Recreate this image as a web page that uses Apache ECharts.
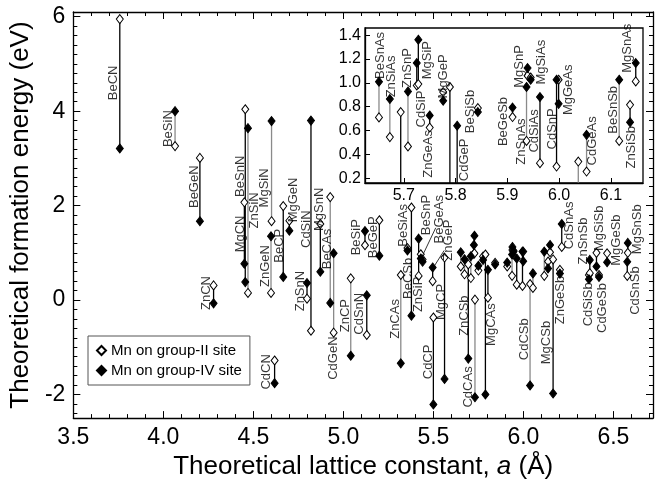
<!DOCTYPE html>
<html>
<head>
<meta charset="utf-8">
<script src="https://cdn.jsdelivr.net/npm/echarts@6/dist/echarts.min.js"></script>
<style>
html, body { margin: 0; padding: 0; background: #fff; }
#chart { width: 657px; height: 485px; }
</style>
</head>
<body>
<div id="chart"></div>
<script>
// compounds, lattice constant (Å), formation energy with Mn on group-II / group-IV site (eV)
const names = ['BeCN','BeSiN','BeGeN','ZnCN','MgCN','BeSnN','ZnSiN','ZnGeN','MgSiN','CdCN',
  'BeCP','MgGeN','ZnSnN','CdSiN','MgSnN','BeCAs','CdGeN','ZnCP','BeSiP','CdSnN',
  'BeGeP','ZnCAs','BeCSb','BeSiAs','ZnSiP','BeSnP','BeGeAs','MgCP','CdCP','ZnGeP',
  'BeSnAs','ZnSiAs','ZnCSb','ZnSnP','CdSiP','MgSiP','CdCAs','ZnGeAs','MgGeP','MgCAs',
  'CdGeP','BeSiSb','BeGeSb','ZnSnAs','MgSnP','CdSiAs','MgSiAs','CdSnP','MgGeAs','CdCSb',
  'CdGeAs','BeSnSb','ZnSiSb','MgSnAs','MgCSb','ZnGeSb','CdSnAs','CdSiSb','ZnSnSb','MgSiSb',
  'CdGeSb','MgGeSb','CdSnSb','MgSnSb'];
const latticeA = [3.758,4.065,4.203,4.279,4.450,4.455,4.470,4.598,4.601,4.618,
  4.666,4.700,4.798,4.820,4.872,4.927,4.946,5.041,5.120,5.130,
  5.200,5.319,5.356,5.378,5.418,5.430,5.440,5.496,5.500,5.562,
  5.652,5.673,5.694,5.708,5.725,5.728,5.731,5.750,5.776,5.789,
  5.803,5.843,5.910,5.937,5.939,5.945,5.963,5.995,5.999,6.037,
  6.053,6.116,6.137,6.148,6.165,6.203,6.213,6.364,6.369,6.406,
  6.420,6.465,6.577,6.580];
const eMnII = [5.95,3.26,3.01,0.31,2.07,4.04,0.15,0.15,1.67,-1.28,
  1.99,1.68,0.03,-0.65,1.61,2.18,-0.69,0.46,1.16,-0.74,
  1.69,0.53,1.10,1.96,0.51,0.97,0.86,0.40,-0.37,0.90,
  0.71,0.545,0.755,0.466,0.978,0.99,0.01,0.625,0.923,0.965,
  0.05,0.788,0.713,0.513,1.06,1.045,0.326,0.298,1.026,0.34,
  0.256,0.513,0.816,1.012,0.86,0.64,1.125,0.53,0.57,1.00,
  0.53,0.99,0.51,1.00];
const eMnIV = [3.21,4.00,1.67,-0.07,0.77,0.38,3.64,1.35,3.79,-1.76,
  0.49,1.47,0.36,3.80,0.60,-0.06,0.99,-1.18,1.46,0.10,
  0.94,-1.34,1.05,-0.33,1.30,0.88,0.81,0.69,-2.21,-1.67,
  1.01,0.864,-1.24,0.928,1.166,1.362,-2.06,0.726,0.85,-2.00,
  0.64,0.755,0.793,0.965,1.124,1.026,0.881,1.026,0.824,-1.81,
  0.564,1.026,0.67,1.166,-1.98,0.56,1.61,0.44,0.85,0.71,
  0.49,0.80,0.81,1.21];
// connectors drawn in grey instead of black
const greyLinks = ['BeSiN','ZnSiN','ZnGeN','MgSiN','BeCAs','CdGeN','ZnCP','ZnCAs','CdCAs',
  'BeSnAs','ZnSiAs','ZnSnP','ZnSnAs','CdCSb','CdGeAs','BeSnSb'];

// label anchors [name, a, E] (main panel and inset)
const mainLabels = [['BeCN',3.721,4.6],['BeSiN',4.03,3.63],['BeGeN',4.172,2.4],['ZnCN',4.237,0.15],
  ['BeSnN',4.43,2.62],['MgCN',4.43,1.40],['ZnSiN',4.504,1.9],['MgSiN',4.559,2.375],['ZnGeN',4.568,0.72],
  ['BeCP',4.642,1.15],['CdCN',4.572,-1.52],['MgGeN',4.72,2.12],['CdSiN',4.793,1.5],['MgSnN',4.865,1.92],
  ['BeCAs',4.909,1.08],['ZnSnN',4.762,0.19],['CdGeN',4.946,-1.23],['ZnCP',5.01,-0.33],['CdSnN',5.09,-0.29],
  ['BeSiP',5.07,1.33],['BeGeP',5.167,1.33],['BeSiAs',5.333,1.58],['BeCSb',5.36,0.46],['ZnCAs',5.29,-0.4],
  ['ZnSiP',5.419,0.12],['BeSnP',5.461,1.8],['BeGeAs',5.535,1.71],['ZnGeP',5.585,1.27],['MgCP',5.544,-0.04],
  ['CdCP',5.474,-1.31],['ZnCSb',5.67,-0.33],['CdCAs',5.695,-1.84],['MgCAs',5.824,-0.52],['CdCSb',6.008,-0.83],
  ['MgCSb',6.13,-0.9],['ZnGeSb',6.207,0.0],['CdSnAs',6.257,1.58],['ZnSnSb',6.336,1.25],['CdSiSb',6.364,-0.09],
  ['MgSiSb',6.423,1.52],['CdGeSb',6.437,-0.17],['MgGeSb',6.515,1.27],['MgSnSb',6.631,1.5],['CdSnSb',6.62,0.2]];
const insetLabels = [['BeSnAs',5.654,1.23],['ZnSiAs',5.676,1.054],['ZnSnP',5.707,1.124],['CdSiP',5.734,0.78],
  ['MgSiP',5.745,1.19],['ZnGeAs',5.748,0.404],['MgGeP',5.776,1.054],['CdGeP',5.817,0.354],['BeSiSb',5.828,0.76],
  ['BeGeSb',5.892,0.676],['MgSnP',5.924,1.138],['ZnSnAs',5.927,0.508],['CdSiAs',5.953,0.597],['MgSiAs',5.966,1.173],
  ['CdSnP',5.987,0.614],['MgGeAs',6.017,0.942],['CdGeAs',6.064,0.513],['BeSnSb',6.105,0.774],['ZnSiSb',6.139,0.46],
  ['MgSnAs',6.131,1.29]];
// leader lines from crowded labels to their pairs [a1, E1, a2, E2]
const leaders = [[5.513,1.53,5.447,1.0],[5.560,1.05,5.505,0.72]];

const FONT = '"Liberation Sans", Arial, sans-serif';
const GREY = '#8a8a8a';

const links = names.map((n, i) => [latticeA[i], eMnII[i], eMnIV[i], greyLinks.includes(n) ? 1 : 0]);
const openPts = names.map((n, i) => [latticeA[i], eMnII[i]]);
const fullPts = names.map((n, i) => [latticeA[i], eMnIV[i]]);

function drawLink(params, api) {
  const p1 = api.coord([api.value(0), api.value(1)]);
  const p2 = api.coord([api.value(0), api.value(2)]);
  return {
    type: 'line',
    shape: { x1: p1[0], y1: p1[1], x2: p2[0], y2: p2[1] },
    style: { stroke: api.value(3) ? GREY : '#000', lineWidth: 1.3 }
  };
}
function drawLeader(params, api) {
  const p1 = api.coord([api.value(0), api.value(1)]);
  const p2 = api.coord([api.value(2), api.value(3)]);
  return { type: 'line', shape: { x1: p1[0], y1: p1[1], x2: p2[0], y2: p2[1] }, style: { stroke: '#000', lineWidth: 0.8 } };
}
function labelSeries(list, xi, yi, z) {
  return {
    type: 'scatter', xAxisIndex: xi, yAxisIndex: yi, z: z, symbolSize: 0, silent: true,
    data: list.map(l => ({ value: [l[1], l[2]], name: l[0] })),
    label: { show: true, position: 'inside', rotate: 90, formatter: p => p.name,
      fontSize: 13, fontFamily: FONT, color: '#000' }
  };
}

const chart = echarts.init(document.getElementById('chart'), null, { renderer: 'canvas' });

const tickMain = { inside: true, length: 7, lineStyle: { color: '#000', width: 1 } };
const minorMain = { show: true, length: 4, lineStyle: { color: '#000', width: 1 } };
const lineBlack = { show: true, onZero: false, lineStyle: { color: '#000', width: 1.3 } };

chart.setOption({
  animation: false,
  backgroundColor: '#fff',
  grid: [
    { left: 70, right: 4, top: 12, bottom: 62 },
    { left: 365, top: 28, width: 278, height: 155 }
  ],
  legend: {
    left: 88, top: 336, orient: 'vertical', itemGap: 5, itemWidth: 9, itemHeight: 9,
    padding: [7, 8, 7, 8], borderColor: '#555', borderWidth: 1, backgroundColor: '#fff',
    textStyle: { fontSize: 15, fontFamily: FONT, color: '#000' },
    data: [{ name: 'Mn on group-II site', icon: 'diamond' }, { name: 'Mn on group-IV site', icon: 'diamond' }]
  },
  xAxis: [
    { type: 'value', gridIndex: 0, min: 3.5, max: 6.72, interval: 0.5,
      name: 'Theoretical lattice constant, {i|a} (Å)', nameLocation: 'middle', nameGap: 33,
      nameTextStyle: { fontSize: 26, fontFamily: FONT, color: '#000',
        rich: { i: { fontSize: 26, fontFamily: FONT, fontStyle: 'italic', color: '#000' } } },
      axisLine: lineBlack, axisTick: tickMain, minorTick: Object.assign({ splitNumber: 5 }, minorMain),
      splitLine: { show: false },
      axisLabel: { fontSize: 23, fontFamily: FONT, color: '#000', margin: 8, showMaxLabel: false,
        formatter: v => v.toFixed(1) } },
    { type: 'value', gridIndex: 0, position: 'top', min: 3.5, max: 6.72, interval: 0.5,
      axisLine: lineBlack, axisTick: tickMain, minorTick: Object.assign({ splitNumber: 5 }, minorMain),
      splitLine: { show: false }, axisLabel: { show: false } },
    { type: 'value', gridIndex: 1, min: 5.625, max: 6.162, splitNumber: 5, z: 10,
      axisLine: lineBlack, axisTick: { inside: true, length: 5, lineStyle: { color: '#000' } },
      splitLine: { show: false },
      axisLabel: { fontSize: 16, fontFamily: FONT, color: '#000', margin: 5, showMinLabel: false, showMaxLabel: false,
        formatter: v => v.toFixed(1) } }
  ],
  yAxis: [
    { type: 'value', gridIndex: 0, min: -2.5, max: 6.1, splitNumber: 4,
      name: 'Theoretical formation energy (eV)', nameLocation: 'middle', nameGap: 34,
      nameTextStyle: { fontSize: 26, fontFamily: FONT, color: '#000' },
      axisLine: lineBlack, axisTick: tickMain, minorTick: Object.assign({ splitNumber: 10 }, minorMain),
      splitLine: { show: false },
      axisLabel: { fontSize: 23, fontFamily: FONT, color: '#000', margin: 8, showMinLabel: false, showMaxLabel: false } },
    { type: 'value', gridIndex: 0, position: 'right', min: -2.5, max: 6.1, splitNumber: 4,
      axisLine: lineBlack, axisTick: tickMain, minorTick: Object.assign({ splitNumber: 10 }, minorMain),
      splitLine: { show: false }, axisLabel: { show: false } },
    { type: 'value', gridIndex: 1, min: 0.16, max: 1.46, splitNumber: 6, z: 10,
      axisLine: lineBlack, axisTick: { inside: true, length: 5, lineStyle: { color: '#000' } },
      splitLine: { show: false },
      axisLabel: { fontSize: 16, fontFamily: FONT, color: '#000', margin: 4, showMinLabel: false, showMaxLabel: false,
        formatter: v => v.toFixed(1) } }
  ],
  series: [
    { type: 'custom', xAxisIndex: 0, yAxisIndex: 0, z: 2, renderItem: drawLink, data: links, silent: true },
    { type: 'custom', xAxisIndex: 0, yAxisIndex: 0, z: 2, renderItem: drawLeader, data: leaders, silent: true },
    { name: 'Mn on group-II site', type: 'scatter', xAxisIndex: 0, yAxisIndex: 0, z: 3,
      symbol: 'diamond', symbolSize: [7, 9], data: openPts,
      itemStyle: { color: '#fff', borderColor: '#000', borderWidth: 1, opacity: 1 } },
    { name: 'Mn on group-IV site', type: 'scatter', xAxisIndex: 0, yAxisIndex: 0, z: 4,
      symbol: 'diamond', symbolSize: [7, 9], data: fullPts,
      itemStyle: { color: '#000', borderColor: '#000', borderWidth: 1, opacity: 1 } },
    labelSeries(mainLabels, 0, 0, 4),
    // inset: white panel on top of the main plot
    { type: 'custom', xAxisIndex: 2, yAxisIndex: 2, z: 6, silent: true, data: [[5.7, 0.5]],
      renderItem: (params) => {
        const cs = params.coordSys;
        return { type: 'rect', shape: { x: cs.x, y: cs.y, width: cs.width, height: cs.height },
          style: { fill: '#fff', stroke: '#000', lineWidth: 1.3 } };
      } },
    { type: 'custom', xAxisIndex: 2, yAxisIndex: 2, z: 7, clip: true, renderItem: drawLink, data: links, silent: true },
    { name: 'Mn on group-II site', type: 'scatter', xAxisIndex: 2, yAxisIndex: 2, z: 8, clip: true,
      symbol: 'diamond', symbolSize: [7, 9], data: openPts,
      itemStyle: { color: '#fff', borderColor: '#000', borderWidth: 1, opacity: 1 } },
    { name: 'Mn on group-IV site', type: 'scatter', xAxisIndex: 2, yAxisIndex: 2, z: 9, clip: true,
      symbol: 'diamond', symbolSize: [7, 9], data: fullPts,
      itemStyle: { color: '#000', borderColor: '#000', borderWidth: 1, opacity: 1 } },
    labelSeries(insetLabels, 2, 2, 9)
  ]
});
</script>
</body>
</html>
